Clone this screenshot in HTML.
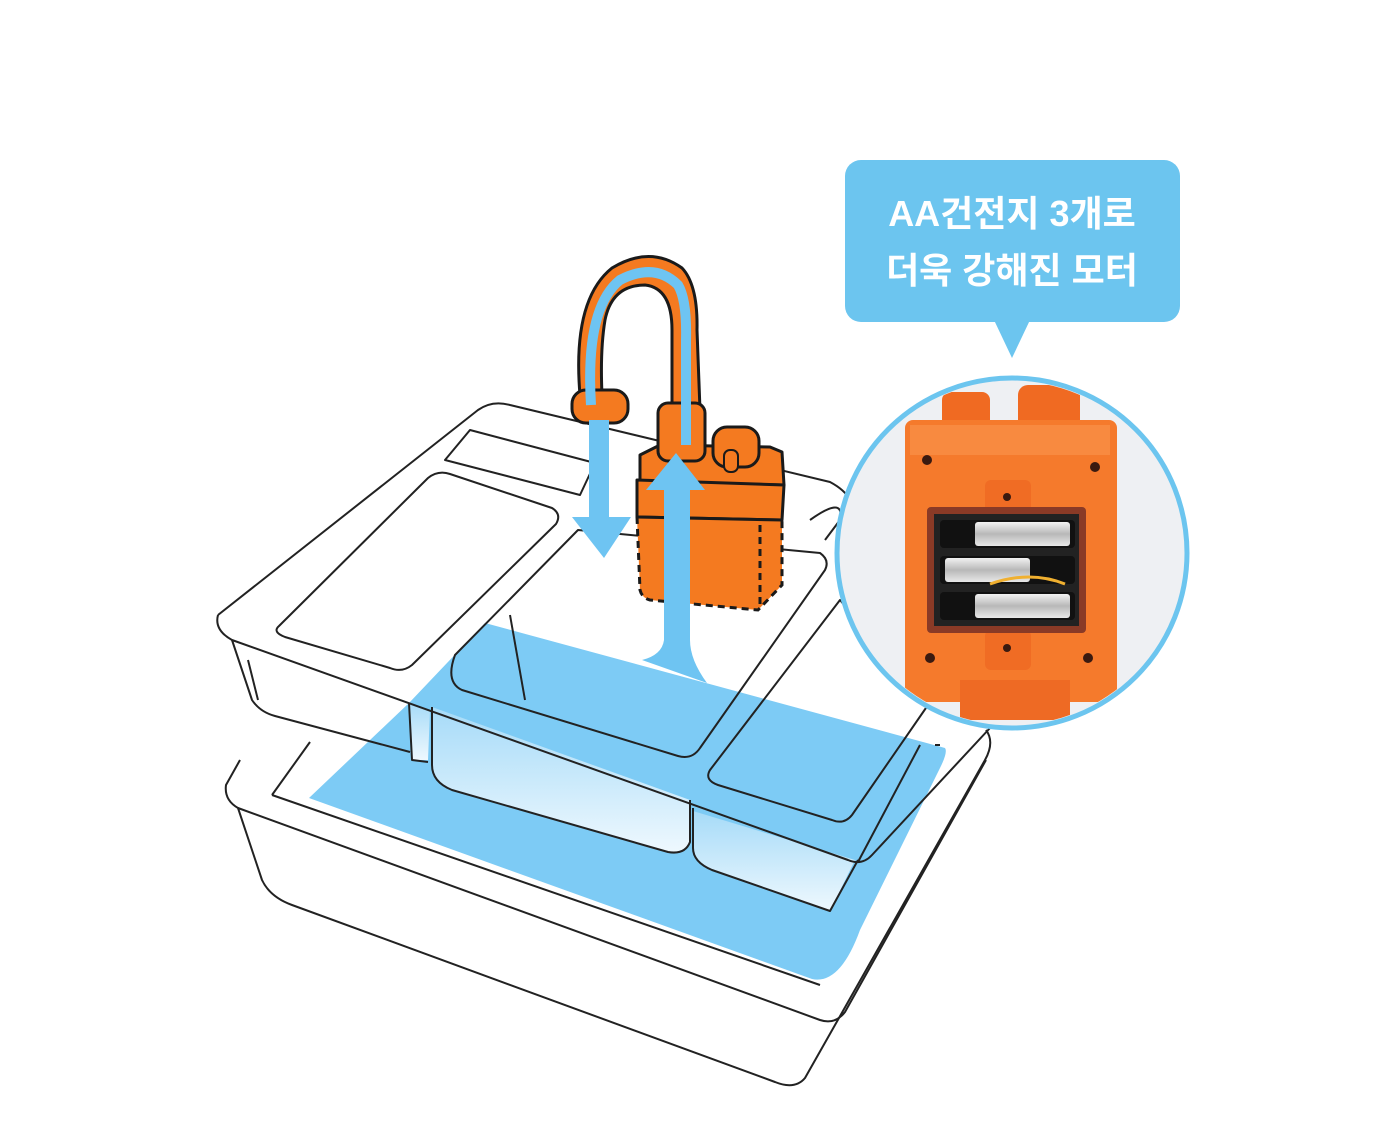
<!DOCTYPE html>
<html><head><meta charset="utf-8"><style>
html,body{margin:0;padding:0;background:#fff;}
svg{display:block;}
text{font-family:"Liberation Sans","Noto Sans CJK KR","NanumGothic",sans-serif;}
</style></head><body>
<svg width="1400" height="1135" viewBox="0 0 1400 1135" xmlns="http://www.w3.org/2000/svg">
<defs>
<linearGradient id="fb" x1="0" y1="0" x2="0" y2="1"><stop offset="0" stop-color="#a6dbf8"/><stop offset="1" stop-color="#eef8fe"/></linearGradient>
<linearGradient id="bat" x1="0" y1="0" x2="0" y2="1"><stop offset="0" stop-color="#f2f2f2"/><stop offset="0.5" stop-color="#b8b8b8"/><stop offset="1" stop-color="#e8e8e8"/></linearGradient>
<clipPath id="cc"><circle cx="1012" cy="553" r="172"/></clipPath>
</defs>
<rect width="1400" height="1135" fill="#fff"/>

<!-- water (single region) -->
<path d="M485,623 L945,748 Q948,752 940,768 L860,930 Q840,985 812,979 L309,798 L409,703 Z" fill="#7dcbf5"/>
<!-- compartment fronts (lighter) -->
<path d="M432,707 L690,800 L690,842 Q685,855 668,852 L452,790 Q432,782 432,765 Z" fill="url(#fb)"/>
<path d="M693,811 L855,860 L830,911 L712,870 Q693,862 693,848 Z" fill="url(#fb)"/>
<path d="M409,703 L430,710 L428,760 L412,760 Z" fill="url(#fb)"/>

<!-- lower tray -->
<g fill="none" stroke="#222" stroke-width="2" stroke-linejoin="round">
<path d="M240,760 L226,785 Q224,800 238,808 L262,880 Q270,897 292,905 L775,1082 Q795,1090 805,1078 L985,760 Q995,742 986,730"/>
<path d="M238,808 L820,1020 Q835,1025 845,1012 L986,760"/>
<path d="M272,795 L310,742"/>
<path d="M272,795 L820,985"/>
<path d="M940,745 L935,745"/>
</g>

<!-- upper tray -->
<g fill="none" stroke="#222" stroke-width="2" stroke-linejoin="round">
<path d="M218,615 L478,410 Q492,400 510,405 L830,482 Q845,490 850,500"/>
<path d="M218,615 Q214,630 232,640 L848,860 Q862,866 872,855 L990,728"/>
<path d="M232,640 L252,700 Q260,712 275,716 L410,752"/>
<path d="M248,660 L258,700"/>
<!-- top-left compartment -->
<path d="M279,626 L428,478 Q438,470 450,474 L552,508 Q562,514 556,524 L412,665 Q402,673 390,668 L285,637 Q272,632 279,626 Z"/>
<!-- top small -->
<path d="M445,460 L470,430 L595,463 L580,495 Z"/>
<!-- middle compartment -->
<path d="M455,655 L578,530 L820,553 Q830,560 825,570 L700,748 Q692,760 678,756 L462,690 Q445,682 455,655 Z"/>
<path d="M510,615 L525,700"/>
<!-- right compartment -->
<path d="M710,770 L840,600 L928,705 L852,815 Q844,825 832,820 L718,785 Q704,780 710,770 Z"/>
<path d="M810,520 Q845,495 840,520 L825,540"/>
<!-- hanging boxes -->
<path d="M409,703 L412,760 L428,762"/>
<path d="M432,707 L432,765 Q432,782 452,790 L668,852 Q685,855 690,842 L690,800"/>
<path d="M693,808 L693,848 Q693,862 712,870 L830,911 L858,860"/>
<path d="M920,745 L858,862"/>
</g>

<!-- faucet gooseneck -->
<g stroke="#1a1a1a" stroke-width="3" stroke-linejoin="round">
<path d="M580,395 Q572,300 612,268 Q650,245 682,268 Q698,285 697,330 L700,410 L672,410 L672,330 Q672,288 645,285 Q612,285 605,320 Q600,350 602,395 Z" fill="#f47a20"/>
<rect x="572" y="390" width="56" height="33" rx="14" fill="#f47a20"/>
<path d="M640,455 L660,445 L770,447 L782,452 L784,485 L640,482 Z" fill="#f47a20"/>
<path d="M637,480 L784,485 L782,520 L637,517 Z" fill="#f47a20"/>
<rect x="658" y="403" width="47" height="58" rx="10" fill="#f47a20"/>
<rect x="713" y="427" width="46" height="40" rx="14" fill="#f47a20"/>
<rect x="724" y="450" width="14" height="22" rx="6" fill="#f47a20" stroke-width="2"/>
</g>
<path d="M637,517 L640,590 Q642,598 650,600 L758,610 L782,585 L782,520" fill="#f47a20" stroke="#1a1a1a" stroke-width="3" stroke-dasharray="7 5"/>
<path d="M760,525 L760,605" stroke="#1a1a1a" stroke-width="3" stroke-dasharray="7 5"/>
<path d="M637,517 L782,520" stroke="#1a1a1a" stroke-width="3"/>

<!-- blue flow -->
<path d="M591,405 Q585,308 620,280 Q655,262 678,285 Q687,300 686,340 L686,445" fill="none" stroke="#6ec4f2" stroke-width="10"/>
<path d="M599,420 L599,525" stroke="#6ec4f2" stroke-width="20"/>
<path d="M572,517 L631,517 L604,558 Z" fill="#6ec4f2"/>
<path d="M664,488 L664,640 Q662,655 642,660 L707,683 Q690,660 690,640 L690,488 Z" fill="#6ec4f2"/>
<path d="M646,490 L676,453 L705,490 Z" fill="#6ec4f2"/>

<!-- bubble -->
<rect x="845" y="160" width="335" height="162" rx="16" fill="#6cc5ef"/>
<path d="M994,320 L1030,320 L1012,358 Z" fill="#6cc5ef"/>
<text x="1012" y="226" text-anchor="middle" font-size="36" font-weight="bold" fill="#fff">AA건전지 3개로</text>
<text x="1012" y="283" text-anchor="middle" font-size="36" font-weight="bold" fill="#fff">더욱 강해진 모터</text>

<!-- circle -->
<circle cx="1012" cy="553" r="175" fill="#eef0f3"/>
<g clip-path="url(#cc)">
<rect x="942" y="392" width="48" height="45" rx="8" fill="#f06a22"/>
<rect x="1018" y="385" width="62" height="48" rx="10" fill="#f06a22"/>
<rect x="905" y="420" width="212" height="282" rx="8" fill="#f57a2c"/>
<rect x="910" y="425" width="200" height="30" fill="#f88a40"/>
<rect x="960" y="680" width="110" height="40" fill="#ee6a24"/>
<rect x="985" y="480" width="46" height="40" rx="6" fill="#f06c24"/>
<rect x="985" y="630" width="46" height="40" rx="6" fill="#f06c24"/>
<rect x="927" y="507" width="159" height="126" rx="4" fill="#8a3a26"/>
<rect x="934" y="514" width="145" height="112" fill="#222"/>
<rect x="940" y="520" width="135" height="28" rx="4" fill="#111"/>
<rect x="975" y="522" width="95" height="24" rx="3" fill="url(#bat)"/>
<rect x="940" y="556" width="135" height="28" rx="4" fill="#111"/>
<rect x="945" y="558" width="85" height="24" rx="3" fill="url(#bat)"/>
<path d="M990,584 Q1030,570 1065,584" stroke="#f0b030" stroke-width="3" fill="none"/>
<rect x="940" y="592" width="135" height="28" rx="4" fill="#111"/>
<rect x="975" y="594" width="95" height="24" rx="3" fill="url(#bat)"/>
<circle cx="927" cy="460" r="5" fill="#3a1a10"/>
<circle cx="1095" cy="467" r="5" fill="#3a1a10"/>
<circle cx="930" cy="658" r="5" fill="#3a1a10"/>
<circle cx="1088" cy="658" r="5" fill="#3a1a10"/>
<circle cx="1007" cy="497" r="4" fill="#3a1a10"/>
<circle cx="1007" cy="648" r="4" fill="#3a1a10"/>
</g>
<circle cx="1012" cy="553" r="175" fill="none" stroke="#6cc5ef" stroke-width="5"/>
</svg>
</body></html>
